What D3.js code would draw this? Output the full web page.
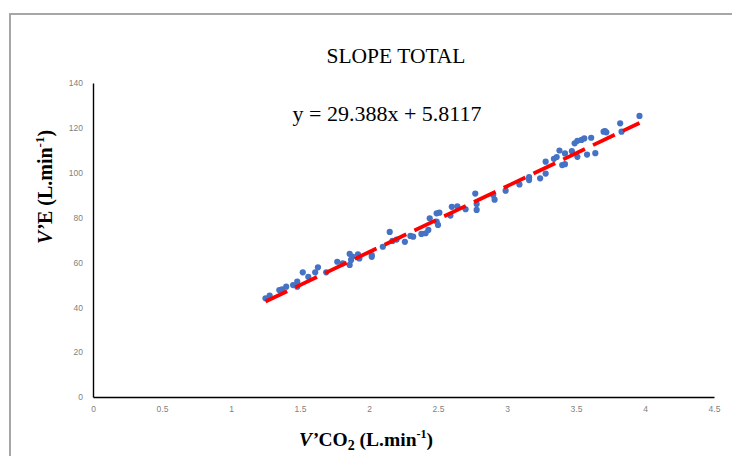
<!DOCTYPE html>
<html>
<head>
<meta charset="utf-8">
<script src="https://cdn.jsdelivr.net/npm/d3@7"></script>
<style>
  body { margin: 0; background: #fff; }
  svg { display: block; }
</style>
</head>
<body>
<div id="chart"></div>
<script>
// V'CO2 (L/min) vs V'E (L/min)
const vco2 = [1.25, 1.28, 1.35, 1.37, 1.40, 1.45, 1.48, 1.48, 1.52, 1.56,
  1.61, 1.63, 1.69, 1.77, 1.81, 1.86, 1.86, 1.87, 1.88, 1.92,
  1.93, 2.02, 2.02, 2.10, 2.15, 2.17, 2.20, 2.26, 2.30, 2.32,
  2.38, 2.41, 2.43, 2.44, 2.49, 2.49, 2.50, 2.51, 2.59, 2.60,
  2.64, 2.70, 2.77, 2.78, 2.78, 2.90, 2.91, 2.99, 3.09, 3.16,
  3.16, 3.24, 3.28, 3.28, 3.34, 3.36, 3.38, 3.40, 3.42, 3.42,
  3.47, 3.49, 3.51, 3.51, 3.54, 3.56, 3.58, 3.61, 3.64, 3.70,
  3.71, 3.72, 3.82, 3.83, 3.96];
const ve = [44.0, 45.2, 47.7, 48.0, 49.2, 49.9, 51.4, 49.2, 55.6, 53.6,
  55.6, 57.8, 55.6, 60.3, 59.6, 63.8, 58.9, 61.1, 62.6, 63.6,
  61.8, 63.3, 62.5, 67.0, 73.6, 69.6, 70.2, 69.2, 71.8, 71.5,
  72.7, 73.0, 74.5, 79.7, 78.2, 81.9, 76.7, 82.2, 80.9, 84.8,
  85.0, 83.7, 90.7, 83.4, 86.0, 90.1, 88.0, 92.0, 94.8, 98.0,
  96.7, 97.5, 99.6, 104.9, 106.2, 107.0, 109.9, 103.4, 103.8, 108.6,
  109.6, 113.1, 114.2, 107.1, 114.6, 115.3, 108.1, 115.6, 108.7, 118.3,
  118.6, 118.0, 122.0, 118.3, 125.3];

const fitSlope = 29.388, fitIntercept = 5.8117;
const xTicks = [0, 0.5, 1, 1.5, 2, 2.5, 3, 3.5, 4, 4.5];
const yTicks = [0, 20, 40, 60, 80, 100, 120, 140];

const chartTitle = "SLOPE TOTAL";

function init() {
  var width = 732, height = 456;

  var svg = d3.select("#chart").append("svg")
    .attr("width", width)
    .attr("height", height);

  // chart area frame (gray, runs off the right and bottom)
  svg.append("path")
    .attr("d", "M10,460 V14 H740")
    .attr("fill", "none")
    .attr("stroke", "#a6a6a6")
    .attr("stroke-width", 2);

  var x = d3.scaleLinear().domain([0, 4.5]).range([93, 714]);
  var y = d3.scaleLinear().domain([0, 140]).range([397, 83]);

  var xAxis = svg.append("g")
    .attr("transform", "translate(0," + y(0) + ")")
    .call(d3.axisBottom(x).tickValues(xTicks).tickSize(0).tickPadding(9)
      .tickFormat(d3.format("")));
  var yAxis = svg.append("g")
    .attr("transform", "translate(" + x(0) + ",0)")
    .call(d3.axisLeft(y).tickValues(yTicks).tickSize(0).tickPadding(10));

  [xAxis, yAxis].forEach(function (g) {
    g.select(".domain").attr("stroke", "#000").attr("stroke-width", 1.4);
    g.selectAll("text")
      .attr("fill", "#7f7f7f")
      .style("font-family", "'Liberation Sans', Arial, sans-serif")
      .style("font-size", "8.5px");
  });

  // points
  svg.append("g").selectAll("circle")
    .data(d3.zip(vco2, ve))
    .enter().append("circle")
    .attr("cx", function (d) { return x(d[0]); })
    .attr("cy", function (d) { return y(d[1]); })
    .attr("r", 3.1)
    .attr("fill", "#4472c4");

  // linear trend line
  var ext = d3.extent(vco2);
  svg.append("line")
    .attr("x1", x(ext[0])).attr("y1", y(fitSlope * ext[0] + fitIntercept))
    .attr("x2", x(ext[1])).attr("y2", y(fitSlope * ext[1] + fitIntercept))
    .attr("stroke", "#ff0000")
    .attr("stroke-width", 3.8)
    .attr("stroke-dasharray", "24,9");

  var serif = "'Liberation Serif', 'Times New Roman', serif";

  svg.append("text")
    .attr("x", 396).attr("y", 63)
    .attr("text-anchor", "middle")
    .style("font-family", serif).style("font-size", "21.5px")
    .text(chartTitle);

  svg.append("text")
    .attr("x", 387).attr("y", 121)
    .attr("text-anchor", "middle")
    .style("font-family", serif).style("font-size", "22px")
    .text("y = " + fitSlope + "x + " + fitIntercept);

  // axis titles
  var xt = svg.append("text")
    .attr("x", 366).attr("y", 446)
    .attr("text-anchor", "middle")
    .style("font-family", serif).style("font-size", "19.5px")
    .style("font-weight", "bold");
  xt.append("tspan").style("font-style", "italic").text("V’");
  xt.append("tspan").text("CO");
  xt.append("tspan").attr("dy", 4).style("font-size", "14px").text("2");
  xt.append("tspan").attr("dy", -4).text(" (L.min");
  xt.append("tspan").attr("dy", -8).style("font-size", "12px").text("-1");
  xt.append("tspan").attr("dy", 8).text(")");

  var yt = svg.append("text")
    .attr("transform", "translate(52,187) rotate(-90)")
    .attr("text-anchor", "middle")
    .style("font-family", serif).style("font-size", "20px")
    .style("font-weight", "bold");
  yt.append("tspan").style("font-style", "italic").text("V’");
  yt.append("tspan").text("E (L.min");
  yt.append("tspan").attr("dy", -8).style("font-size", "13px").text("-1");
  yt.append("tspan").attr("dy", 8).text(")");
}

init();
</script>
</body>
</html>
